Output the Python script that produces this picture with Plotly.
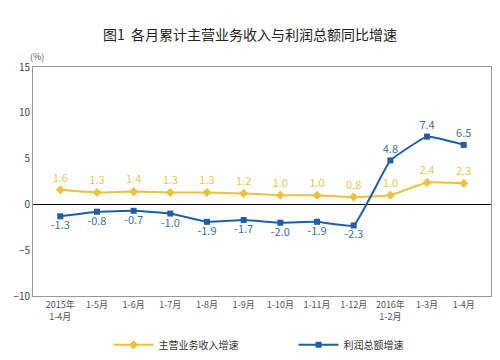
import plotly.graph_objects as go

categories = ["2015年<br>1-4月", "1-5月", "1-6月", "1-7月", "1-8月", "1-9月", "1-10月",
              "1-11月", "1-12月", "2016年<br>1-2月", "1-3月", "1-4月"]
revenue_growth = [1.6, 1.3, 1.4, 1.3, 1.3, 1.2, 1.0, 1.0, 0.8, 1.0, 2.4, 2.3]
profit_growth = [-1.3, -0.8, -0.7, -1.0, -1.9, -1.7, -2.0, -1.9, -2.3, 4.8, 7.4, 6.5]
y_ticks = [-10, -5, 0, 5, 10, 15]
y_range = [-10, 15]

FONT = "Noto Sans CJK SC"
yellow = "#EBC23B"
yellow_txt = "#E6C75E"
blue = "#1F5EA6"
blue_txt = "#3F6E9F"

fig = go.Figure()
fig.add_trace(go.Scatter(
    x=categories, y=revenue_growth, name="主营业务收入增速",
    mode="lines+markers+text",
    line=dict(color=yellow, width=2, shape="spline", smoothing=0.3),
    marker=dict(symbol="diamond", size=7, color=yellow),
    text=[f"{v:.1f}" for v in revenue_growth], textposition="top center",
    textfont=dict(color=yellow_txt, size=11, family=FONT),
))
fig.add_trace(go.Scatter(
    x=categories, y=profit_growth, name="利润总额增速",
    mode="lines+markers+text",
    line=dict(color=blue, width=2, shape="spline", smoothing=0.3),
    marker=dict(symbol="square", size=6, color=blue),
    text=[f"{v:.1f}" for v in profit_growth],
    textposition=["bottom center" if v < 0 else "top center" for v in profit_growth],
    textfont=dict(color=blue_txt, size=11, family=FONT),
))

zero_frac = (0 - y_range[0]) / (y_range[1] - y_range[0])

fig.update_layout(
    width=484, height=344,
    margin=dict(l=25, r=1, t=59, b=56, autoexpand=False),
    paper_bgcolor="white", plot_bgcolor="white",
    font=dict(family=FONT, color="#333333", size=10),
    title=dict(text="图1  各月累计主营业务收入与利润总额同比增速", x=0.5, xanchor="center",
               y=0.92, yanchor="middle", font=dict(size=14, color="#222222", family=FONT)),
    showlegend=True,
    legend=dict(orientation="h", x=0.165, xanchor="left", y=-0.15, yanchor="top",
                font=dict(size=10, color="#333333", family=FONT), itemwidth=40,
                traceorder="normal", entrywidth=130),
    annotations=[dict(text="(%)", xref="paper", yref="paper", x=-0.01, y=1.01,
                      xanchor="left", yanchor="bottom", showarrow=False,
                      font=dict(size=9, color="#555555", family=FONT))],
    xaxis2=dict(overlaying="x", matches="x", anchor="free", position=zero_frac,
                type="category", categoryarray=categories, categoryorder="array",
                showticklabels=False, ticks="inside", tickson="boundaries",
                ticklen=3, tickcolor="#000000", showline=False, showgrid=False,
                automargin=False),
)
fig.update_xaxes(
    type="category", showgrid=False, showline=True, linecolor="#999999", mirror=True,
    ticks="", automargin=False, tickfont=dict(size=9, color="#555555", family=FONT),
    selector=dict(anchor="y"),
)
fig.update_yaxes(
    range=y_range, tickvals=y_ticks, showgrid=False, showline=True, automargin=False,
    linecolor="#999999", mirror=True, zeroline=True, zerolinecolor="#000000",
    zerolinewidth=1, ticks="", tickfont=dict(size=10, color="#444444", family=FONT),
)
fig.layout.xaxis.update(type="category", showgrid=False, showline=True, linecolor="#999999",
                        mirror=True, ticks="", automargin=False,
                        tickfont=dict(size=9, color="#555555", family=FONT))

fig.write_html("out.html")
